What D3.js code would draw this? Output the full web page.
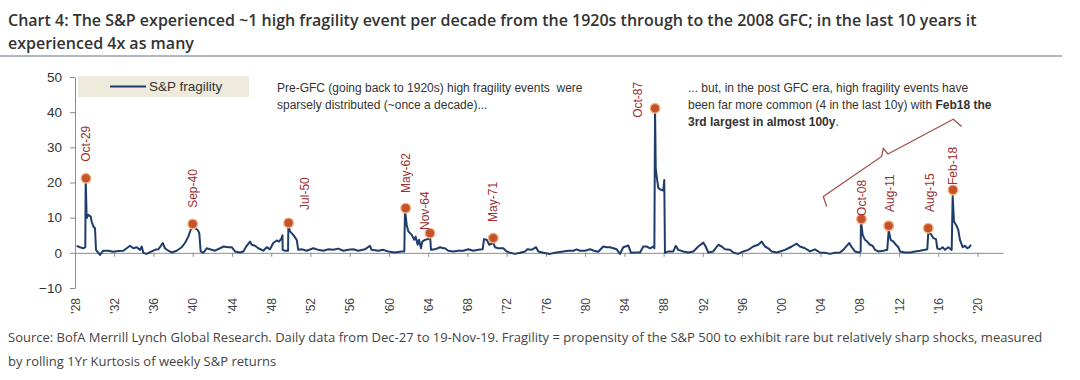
<!DOCTYPE html>
<html lang="en">
<head>
  <meta charset="UTF-8">
  <title>S&P fragility</title>
  <script src="https://d3js.org/d3.v7.min.js"></script>
  <style>
    body {
      margin: 0;
      padding: 0;
      background: #fff;
    }
    .title {
      font-family: 'Open Sans', sans-serif;
      font-size: 16px;
      font-weight: 600;
      fill: #333;
    }
    .source {
      font-family: 'Open Sans', sans-serif;
      font-size: 13px;
      fill: #444;
    }
    .axis text {
      font-family: 'Liberation Sans', Arial, sans-serif;
      font-size: 12px;
      fill: #444;
    }
    .y-axis text {
      font-size: 13.5px;
      fill: #333;
    }
    .axis path, .axis line {
      stroke: #8c8c8c;
    }
    .note {
      font-family: 'Liberation Sans', Arial, sans-serif;
      font-size: 12px;
      fill: #333;
    }
    .event-label {
      font-family: 'Liberation Sans', Arial, sans-serif;
      font-size: 12px;
      fill: #9b2f2f;
    }
  </style>
</head>
<body>
  <div id="chart"></div>

  <script>
    // fragility series (axis years, kurtosis value)
    const seriesYears = [
      1928.17, 1928.51, 1928.85, 1929.05, 1929.09, 1929.19, 1929.36, 1929.60, 1929.70, 1929.87,
      1930.04, 1930.14, 1930.38, 1930.55, 1930.88, 1931.39, 1931.90, 1932.41, 1932.92, 1933.27,
      1933.61, 1933.94, 1934.29, 1934.63, 1934.80, 1934.96, 1935.31, 1935.82, 1936.16, 1936.49,
      1936.66, 1936.94, 1937.17, 1937.51, 1937.86, 1938.37, 1938.88, 1939.21, 1939.55, 1939.79,
      1940.00, 1940.23, 1940.51, 1940.67, 1940.81, 1941.08, 1941.43, 1941.76, 1942.27, 1942.78,
      1943.12, 1943.63, 1943.97, 1944.31, 1944.82, 1945.16, 1945.50, 1945.84, 1946.01, 1946.35,
      1946.69, 1947.19, 1947.54, 1947.88, 1948.21, 1948.56, 1948.80, 1949.07, 1949.15, 1949.17,
      1949.42, 1949.72, 1949.75, 1949.92, 1950.25, 1950.60, 1950.76, 1951.11, 1951.62, 1952.29,
      1952.80, 1953.31, 1953.82, 1954.33, 1954.84, 1955.35, 1955.86, 1956.37, 1956.88, 1957.56,
      1958.07, 1958.24, 1958.92, 1959.43, 1959.94, 1960.62, 1961.30, 1961.57, 1961.64, 1961.81,
      1961.98, 1962.32, 1962.59, 1962.73, 1962.93, 1963.07, 1963.27, 1963.40, 1963.68, 1964.01,
      1964.19, 1964.29, 1964.70, 1965.21, 1965.54, 1965.72, 1966.05, 1966.56, 1967.07, 1967.58,
      1968.09, 1968.60, 1969.11, 1969.56, 1969.69, 1969.97, 1970.23, 1970.64, 1970.81, 1971.15,
      1971.66, 1972.01, 1972.34, 1972.85, 1973.36, 1973.87, 1974.11, 1974.56, 1975.00, 1975.23,
      1975.74, 1976.42, 1976.93, 1977.61, 1978.29, 1978.80, 1979.14, 1979.48, 1979.99, 1980.50,
      1980.91, 1981.34, 1981.85, 1982.20, 1982.54, 1982.88, 1983.22, 1983.56, 1983.89, 1984.40,
      1984.68, 1985.09, 1985.60, 1985.93, 1986.28, 1986.62, 1986.96, 1987.06, 1987.13, 1987.20,
      1987.30, 1987.47, 1987.74, 1987.97, 1988.07, 1988.14, 1988.48, 1988.99, 1989.24, 1989.50,
      1990.01, 1990.52, 1991.03, 1991.54, 1992.05, 1992.29, 1992.56, 1993.06, 1993.58, 1993.92,
      1994.26, 1994.77, 1995.10, 1995.61, 1996.12, 1996.64, 1997.14, 1997.65, 1998.00, 1998.34,
      1998.67, 1999.02, 1999.53, 1999.87, 2000.38, 2000.71, 2001.06, 2001.56, 2001.90, 2002.41,
      2002.92, 2003.43, 2003.94, 2004.45, 2004.96, 2005.47, 2005.98, 2006.32, 2006.67, 2006.93,
      2007.18, 2007.51, 2007.95, 2008.09, 2008.12, 2008.29, 2008.53, 2008.76, 2009.04, 2009.31,
      2009.55, 2009.89, 2010.40, 2010.80, 2010.95, 2011.15, 2011.42, 2011.69, 2011.93, 2012.10,
      2012.61, 2013.12, 2013.63, 2014.14, 2014.65, 2014.88, 2014.98, 2015.23, 2015.49, 2015.77,
      2015.90, 2016.17, 2016.45, 2016.69, 2017.02, 2017.37, 2017.47, 2017.60, 2017.81, 2018.04,
      2018.21, 2018.49, 2018.72, 2018.96, 2019.16, 2019.34
    ];
    const seriesValues = [
      2.0, 1.6, 1.3, 1.6, 21.2, 9.9, 10.8, 10.3, 8.9, 7.5,
      7.0, 0.85, 0.0, -0.6, 0.6, 0.6, 0.3, 0.5, 0.6, 1.3,
      2.0, 1.3, 1.6, 0.85, 1.8, 0.0, -0.3, 0.4, 0.85, 1.0,
      1.6, 2.8, 1.3, 0.6, 0.1, 0.6, 1.6, 2.8, 4.6, 6.5,
      7.4, 7.0, 6.5, 5.6, 0.4, 0.0, 1.3, 1.0, 0.6, 1.3,
      1.8, 1.6, 1.6, 0.4, 0.1, 0.4, 2.0, 3.2, 2.3, 2.0,
      1.3, 0.6, 1.6, 1.0, 2.8, 3.5, 3.2, 4.2, 5.0, 0.85,
      0.6, 0.6, 8.0, 6.1, 5.1, 3.7, 0.85, 1.0, 0.6, 1.3,
      0.85, 0.6, 1.0, 0.85, 1.2, 0.6, 0.85, 1.0, 0.6, 1.0,
      2.0, 0.85, 0.6, 0.85, 0.4, 0.1, 0.4, 0.4, 12.4, 8.0,
      6.1, 5.1, 3.7, 4.6, 2.3, 3.7, 1.3, 3.2, 3.7, 3.9,
      5.1, 0.85, 1.0, 1.6, 1.3, 1.3, 0.6, 0.4, 0.6, 0.6,
      1.0, 0.6, 0.85, 1.0, 3.9, 3.7, 2.3, 2.8, 1.6, 1.3,
      1.3, 0.4, 0.0, -0.3, 0.0, 0.4, 1.0, 0.85, 1.6, 0.4,
      0.0, -0.3, 0.0, 0.3, 0.6, 0.6, 1.0, 0.6, 0.6, 1.0,
      0.6, 0.3, 1.8, 1.6, 1.6, 1.3, 1.0, -0.3, 1.6, 2.1,
      0.0, 0.1, 0.1, 1.8, 1.8, 1.3, 1.8, 1.3, 41.1, 24.1,
      21.7, 18.4, 17.9, 17.7, 20.7, 0.0, 0.4, 0.4, 2.0, 0.85,
      0.4, 0.1, 0.4, 1.8, 2.9, 1.8, 0.1, 0.4, 2.3, 1.8,
      1.0, 0.85, 0.1, -0.3, 0.4, 0.85, 1.8, 2.3, 3.2, 1.8,
      1.3, 0.4, 0.1, 0.4, 0.85, 1.3, 1.8, 2.6, 1.8, 1.3,
      0.4, 1.0, 0.1, 0.0, -0.3, 0.0, 0.1, 0.85, 2.0, 2.8,
      1.6, 0.4, 0.1, 0.4, 9.4, 5.1, 3.7, 3.2, 2.3, 2.0,
      0.85, 0.4, 0.6, 0.85, 6.5, 3.7, 3.2, 2.3, 1.6, 0.4,
      0.1, 0.1, 0.4, 0.6, 0.85, 1.0, 5.6, 5.4, 4.2, 3.9,
      1.3, 1.0, 1.6, 0.85, 1.6, 0.85, 16.2, 8.9, 8.0, 6.5,
      3.7, 1.6, 2.0, 1.3, 1.6, 2.3
    ];

    // high fragility events
    const eventLabels = ["Oct-29", "Sep-40", "Jul-50", "May-62", "Nov-64", "May-71",
                         "Oct-87", "Oct-08", "Aug-11", "Aug-15", "Feb-18"];
    const eventYears = [1929.12, 1940.00, 1949.77, 1961.71, 1964.19, 1970.64,
                        1987.13, 2008.17, 2010.95, 2014.98, 2017.50];
    const eventValues = [21.2, 8.2, 8.5, 12.7, 5.6, 4.2, 41.1, 9.6, 7.7, 7.0, 17.9];
    // where each rotated label starts, in axis units
    const eventLabelYears = [1929.12, 1940.00, 1951.45, 1961.74, 1963.68, 1970.64,
                             1985.40, 2008.19, 2011.08, 2015.16, 2017.53];
    const eventLabelValues = [25.9, 12.8, 12.2, 17.0, 6.5, 8.8, 38.4, 10.5, 11.6, 11.6, 19.3];

    const yTicks = [-10, 0, 10, 20, 30, 40, 50];
    const xTicks = d3.range(1928, 2021, 4);
    const xTickLabels = xTicks.map(y => "'" + String(y % 100).padStart(2, "0"));

    // brace over the post-GFC decade
    const braceYears = [2004.63, 2004.28, 2010.23, 2010.40, 2010.87, 2017.53, 2018.39];
    const braceValues = [13.2, 16.0, 27.4, 29.7, 28.1, 38.0, 35.9];

    const titleLines = [
      "Chart 4: The S&P experienced ~1 high fragility event per decade from the 1920s through to the 2008 GFC; in the last 10 years it",
      "experienced 4x as many"
    ];
    const sourceLines = [
      "Source: BofA Merrill Lynch Global Research. Daily data from Dec-27 to 19-Nov-19. Fragility = propensity of the S&P 500 to exhibit rare but relatively sharp shocks, measured",
      "by rolling 1Yr Kurtosis of weekly S&P returns"
    ];

    const W = 1080, H = 380;
    const svg = d3.select("#chart").append("svg")
      .attr("width", W)
      .attr("height", H);

    // title
    svg.selectAll(".title")
      .data(titleLines)
      .enter()
      .append("text")
      .attr("class", "title")
      .attr("x", 8)
      .attr("y", (d, i) => 26 + i * 23)
      .text(d => d);

    svg.append("line")
      .attr("x1", 0).attr("x2", 1062)
      .attr("y1", 56).attr("y2", 56)
      .attr("stroke", "#9aa0a6")
      .attr("stroke-width", 1.5);

    const x = d3.scaleLinear().domain([1928, 2022.6]).range([75, 1003]);
    const y = d3.scaleLinear().domain([-10, 50]).range([288, 77]);

    // legend box
    svg.append("rect")
      .attr("x", 78).attr("y", 76)
      .attr("width", 171).attr("height", 21)
      .attr("fill", "#eeebdd");
    svg.append("line")
      .attr("x1", 110).attr("x2", 146)
      .attr("y1", 86.5).attr("y2", 86.5)
      .attr("stroke", "#1f3d6b")
      .attr("stroke-width", 2);
    svg.append("text")
      .attr("class", "note")
      .attr("x", 149).attr("y", 91)
      .style("font-size", "13.5px")
      .text("S&P fragility");

    // y axis
    svg.append("g")
      .attr("class", "axis y-axis")
      .attr("transform", "translate(75,0)")
      .call(d3.axisLeft(y).tickValues(yTicks).tickSize(5).tickPadding(8).tickSizeOuter(0));

    // zero line with ticks
    svg.append("g")
      .attr("class", "axis x-axis")
      .attr("transform", `translate(0,${y(0)})`)
      .call(d3.axisBottom(x).tickValues(xTicks).tickSize(4).tickSizeOuter(0).tickFormat(""))
      .call(g => g.select(".domain").attr("stroke", "#7d93b3"));

    // rotated year labels
    const xl = svg.append("g")
      .attr("class", "axis x-labels")
      .attr("transform", `translate(0,${y(-10)})`)
      .call(d3.axisBottom(x).tickValues(xTicks).tickSize(0).tickFormat((d, i) => xTickLabels[i]));
    xl.select(".domain").remove();
    xl.selectAll("text")
      .attr("transform", "rotate(-90)")
      .attr("text-anchor", "end")
      .attr("x", -10)
      .attr("y", 0)
      .attr("dy", "0.35em");

    // series
    const pts = seriesYears.map((yr, i) => [yr, seriesValues[i]]);
    svg.append("path")
      .datum(pts)
      .attr("fill", "none")
      .attr("stroke", "#1f3d6b")
      .attr("stroke-width", 2)
      .attr("stroke-linejoin", "round")
      .attr("d", d3.line().x(d => x(d[0])).y(d => y(d[1])));

    // event markers
    svg.selectAll(".event")
      .data(eventLabels)
      .enter()
      .append("circle")
      .attr("class", "event")
      .attr("cx", (d, i) => x(eventYears[i]))
      .attr("cy", (d, i) => y(eventValues[i]))
      .attr("r", 4.8)
      .attr("fill", "#c4532b")
      .attr("stroke", "#f3b37c")
      .attr("stroke-width", 1.4);

    svg.selectAll(".event-label")
      .data(eventLabels)
      .enter()
      .append("text")
      .attr("class", "event-label")
      .attr("transform", (d, i) => `translate(${x(eventLabelYears[i])},${y(eventLabelValues[i])}) rotate(-90)`)
      .attr("dy", "0.35em")
      .text(d => d);

    // annotations
    const leftNote = svg.append("text").attr("class", "note").attr("x", 277);
    leftNote.append("tspan").attr("x", 277).attr("y", 92)
      .text("Pre-GFC (going back to 1920s) high fragility events\u00a0 were");
    leftNote.append("tspan").attr("x", 277).attr("y", 109)
      .text("sparsely distributed (~once a decade)...");

    const rightNote = svg.append("text").attr("class", "note");
    rightNote.append("tspan").attr("x", 688).attr("y", 92)
      .text("... but, in the post GFC era, high fragility events have");
    const l2 = rightNote.append("tspan").attr("x", 688).attr("y", 109);
    l2.append("tspan").text("been far more common (4 in the last 10y) with ");
    l2.append("tspan").attr("font-weight", "bold").text("Feb18 the");
    const l3 = rightNote.append("tspan").attr("x", 688).attr("y", 126);
    l3.append("tspan").attr("font-weight", "bold").text("3rd largest in almost 100y");
    l3.append("tspan").text(".");

    // brace
    svg.append("path")
      .datum(braceYears.map((yr, i) => [yr, braceValues[i]]))
      .attr("fill", "none")
      .attr("stroke", "#a34f4a")
      .attr("stroke-width", 1.3)
      .attr("d", d3.line().x(d => x(d[0])).y(d => y(d[1])));

    // source
    svg.selectAll(".source")
      .data(sourceLines)
      .enter()
      .append("text")
      .attr("class", "source")
      .attr("x", 8)
      .attr("y", (d, i) => 342 + i * 24)
      .text(d => d);
  </script>
</body>
</html>
